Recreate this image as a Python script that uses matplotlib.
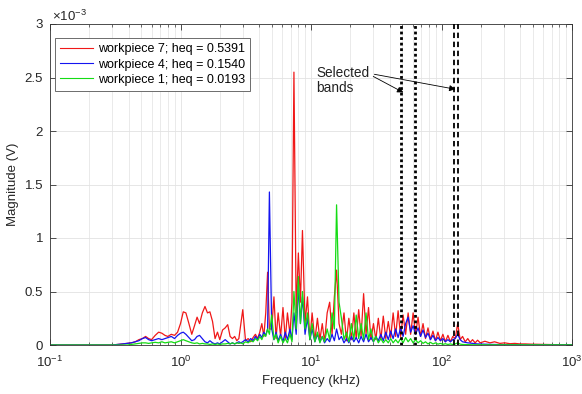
import numpy as np
import matplotlib
matplotlib.use("Agg")
import matplotlib.pyplot as plt
from matplotlib.ticker import LogLocator, NullFormatter, FormatStrFormatter

plt.rcParams['font.family'] = ['Liberation Sans', 'DejaVu Sans']
plt.rcParams['mathtext.fontset'] = 'custom'
plt.rcParams['mathtext.rm'] = 'Liberation Sans'
plt.rcParams['mathtext.it'] = 'Liberation Sans:italic'

# frequency bins (kHz)
freq_low = [0.1, 0.15, 0.2, 0.25, 0.3, 0.33, 0.36, 0.39, 0.42, 0.45,
            0.48, 0.51, 0.54, 0.57, 0.6, 0.64, 0.68, 0.72, 0.76, 0.8,
            0.85, 0.9, 0.95, 1.0, 1.05, 1.1, 1.16, 1.22, 1.28, 1.34,
            1.4, 1.47, 1.54, 1.61, 1.68, 1.76, 1.84, 1.92, 2.0, 2.1,
            2.2, 2.3, 2.4, 2.5, 2.6, 2.7, 2.8, 2.9, 3.0, 3.15,
            3.3, 3.45, 3.6, 3.75, 3.9, 4.05, 4.2, 4.35, 4.5, 4.65, 4.8]
freq_high = [5.0, 5.2, 5.4, 5.6, 5.85, 6.1, 6.35, 6.6, 6.9, 7.15,
             7.4, 7.7, 8.0, 8.3, 8.6, 9.0, 9.4, 9.8, 10.2, 10.7,
             11.2, 11.7, 12.2, 12.7, 13.3, 13.9, 14.5, 15.1, 15.7, 16.4,
             17.1, 17.9, 18.7, 19.5, 20.4, 21.3, 22.2, 23.2, 24.2, 25.3,
             26.4, 27.6, 28.8, 30.1, 31.4, 32.8, 34.3, 35.8, 37.4, 39.1,
             40.8, 42.6, 44.5, 46.5, 48.6, 50.8, 53.1, 55.5, 58, 60.6,
             63.3, 66.1, 69.1, 72.2, 75.4, 78.8, 82.3, 86, 89.9, 93.9,
             98.1, 102.5, 107, 112, 117, 122, 127.5, 133, 139, 145,
             152, 159, 166, 173, 181, 189, 198, 215, 235, 255,
             280, 305, 335, 365, 400, 440, 480, 525, 575, 630,
             690, 760, 830, 910, 1000]

# magnitudes in units of 1e-3 V
wp7_low = [0, 0, 0, 0, 0, 0.005, 0.01, 0.015, 0.02, 0.03,
           0.05, 0.06, 0.08, 0.06, 0.05, 0.09, 0.12, 0.11, 0.09, 0.08,
           0.1, 0.09, 0.12, 0.2, 0.31, 0.3, 0.2, 0.1, 0.18, 0.26,
           0.2, 0.3, 0.36, 0.3, 0.31, 0.22, 0.06, 0.12, 0.05, 0.14,
           0.16, 0.19, 0.08, 0.06, 0.08, 0.04, 0.06, 0.2, 0.33, 0.04,
           0.06, 0.03, 0.07, 0.1, 0.06, 0.12, 0.2, 0.08, 0.3, 0.68, 0.15]
wp7_high = [0.15, 0.45, 0.06, 0.3, 0.08, 0.35, 0.05, 0.3, 0.1, 0.4,
            2.55, 0.3, 0.86, 0.4, 1.07, 0.2, 0.45, 0.05, 0.3, 0.04,
            0.25, 0.05, 0.2, 0.03, 0.3, 0.4, 0.1, 0.45, 0.7, 0.2,
            0.1, 0.3, 0.04, 0.25, 0.05, 0.3, 0.06, 0.33, 0.08, 0.48,
            0.1, 0.35, 0.05, 0.2, 0.05, 0.25, 0.05, 0.27, 0.06, 0.22,
            0.07, 0.3, 0.08, 0.32, 0.08, 0.28, 0.1, 0.3, 0.1, 0.3,
            0.1, 0.26, 0.08, 0.2, 0.06, 0.16, 0.05, 0.13, 0.04, 0.12,
            0.04, 0.1, 0.03, 0.09, 0.03, 0.08, 0.06, 0.2, 0.05, 0.08,
            0.03, 0.06, 0.025, 0.05, 0.02, 0.045, 0.02, 0.035, 0.02, 0.03,
            0.015, 0.02, 0.012, 0.015, 0.01, 0.01, 0.008, 0.007, 0.006, 0.005,
            0.004, 0.003, 0.003, 0.002, 0.002]

wp4_low = [0, 0, 0, 0, 0, 0.005, 0.01, 0.015, 0.02, 0.03,
           0.04, 0.06, 0.07, 0.05, 0.04, 0.05, 0.06, 0.05, 0.06, 0.07,
           0.08, 0.06, 0.09, 0.11, 0.12, 0.1, 0.07, 0.04, 0.05, 0.08,
           0.09, 0.06, 0.03, 0.02, 0.04, 0.02, 0.01, 0.02, 0.01, 0.03,
           0.05, 0.03, 0.01, 0.02, 0.01, 0.02, 0.03, 0.02, 0.03, 0.05,
           0.03, 0.06, 0.04, 0.08, 0.05, 0.1, 0.07, 0.12, 0.09, 0.15, 1.43]
wp4_high = [0.15, 0.05, 0.12, 0.04, 0.1, 0.03, 0.12, 0.05, 0.15, 0.05,
            0.3, 0.1, 0.55, 0.2, 0.45, 0.1, 0.25, 0.05, 0.15, 0.03,
            0.1, 0.03, 0.08, 0.02, 0.06, 0.03, 0.1, 0.04, 0.15, 0.05,
            0.08, 0.02, 0.06, 0.02, 0.08, 0.03, 0.07, 0.02, 0.08, 0.03,
            0.1, 0.03, 0.07, 0.03, 0.08, 0.04, 0.1, 0.04, 0.12, 0.05,
            0.13, 0.06, 0.15, 0.07, 0.16, 0.08, 0.2, 0.26, 0.12, 0.18,
            0.1, 0.16, 0.08, 0.14, 0.07, 0.11, 0.05, 0.09, 0.04, 0.07,
            0.04, 0.06, 0.03, 0.05, 0.03, 0.05, 0.06, 0.1, 0.05, 0.03,
            0.025, 0.02, 0.018, 0.015, 0.012, 0.01, 0.009, 0.008, 0.006, 0.005,
            0.004, 0.003, 0.003, 0.002, 0.002, 0.001, 0.001, 0.001, 0.001, 0.001,
            0.001, 0.001, 0.001, 0.001, 0.001]

wp1_low = [0, 0, 0, 0, 0, 0, 0, 0, 0.005, 0.01,
           0.015, 0.02, 0.02, 0.015, 0.02, 0.025, 0.02, 0.03, 0.02, 0.025,
           0.03, 0.02, 0.03, 0.04, 0.05, 0.04, 0.03, 0.02, 0.015, 0.02,
           0.01, 0.015, 0.01, 0.01, 0.005, 0.01, 0.005, 0.01, 0.005, 0.01,
           0.01, 0.015, 0.01, 0.02, 0.01, 0.02, 0.015, 0.02, 0.01, 0.03,
           0.02, 0.04, 0.03, 0.06, 0.04, 0.08, 0.05, 0.1, 0.08, 0.15, 0.1]
wp1_high = [0.28, 0.05, 0.1, 0.02, 0.08, 0.02, 0.06, 0.02, 0.1, 0.03,
            0.5, 0.15, 0.64, 0.2, 0.5, 0.15, 0.3, 0.05, 0.2, 0.03,
            0.12, 0.02, 0.08, 0.03, 0.15, 0.05, 0.3, 0.15, 1.31, 0.4,
            0.25, 0.05, 0.12, 0.03, 0.2, 0.05, 0.28, 0.06, 0.2, 0.05,
            0.3, 0.05, 0.15, 0.03, 0.08, 0.02, 0.06, 0.02, 0.05, 0.02,
            0.06, 0.02, 0.05, 0.02, 0.06, 0.02, 0.07, 0.03, 0.06, 0.02,
            0.05, 0.02, 0.04, 0.015, 0.03, 0.01, 0.025, 0.01, 0.02, 0.008,
            0.015, 0.006, 0.012, 0.005, 0.01, 0.005, 0.01, 0.02, 0.008, 0.005,
            0.004, 0.003, 0.003, 0.002, 0.002, 0.002, 0.001, 0.001, 0.001, 0.001,
            0.001, 0.001, 0.001, 0.001, 0.001, 0.001, 0.001, 0.001, 0.001, 0.001,
            0.001, 0.001, 0.001, 0.001, 0.001]

labels = ['workpiece 7; heq = 0.5391', 'workpiece 4; heq = 0.1540', 'workpiece 1; heq = 0.0193']
colors = ['#f01818', '#1414f0', '#14dc14']

# selected bands (kHz)
band_dotted = [49, 63]
band_dashed = [125, 133]

freq = freq_low + freq_high
series = [wp7_low + wp7_high, wp4_low + wp4_high, wp1_low + wp1_high]

fig = plt.figure(figsize=(5.82, 3.94), dpi=100)
ax = fig.add_axes([50 / 582, 49 / 394, 522 / 582, 321 / 394])

for mag, lab, c in zip(series, labels, colors):
    ax.plot(freq, mag, color=c, lw=0.9, label=lab)

for f in band_dotted:
    ax.axvline(f, color='black', lw=2.0, linestyle=(0, (1, 1)), zorder=5)
for f in band_dashed:
    ax.axvline(f, color='black', lw=1.3, linestyle=(0, (3, 2)), zorder=5)

ax.set_xscale('log')
ax.set_xlim(0.1, 1000)
ax.set_ylim(0, 3)
ax.set_yticks([0, 0.5, 1, 1.5, 2, 2.5, 3])
ax.yaxis.set_major_formatter(FormatStrFormatter('%g'))
ax.xaxis.set_minor_locator(LogLocator(base=10, subs=np.arange(2, 10)))
ax.xaxis.set_minor_formatter(NullFormatter())

ax.grid(True, which='major', color='#e2e2e2', lw=0.6)
ax.grid(True, which='minor', axis='x', color='#e6e6e6', lw=0.6)
ax.set_axisbelow(True)

ax.tick_params(which='both', direction='in', top=True, right=True, labelsize=9.5,
               color='#333333', labelcolor='#262626')
ax.tick_params(which='major', length=4, width=0.6)
ax.tick_params(axis='x', which='major', pad=7)
ax.tick_params(axis='y', which='major', pad=5)
ax.tick_params(which='minor', length=2.5, width=0.5)
for s in ax.spines.values():
    s.set_color('#333333')
    s.set_linewidth(0.6)

ax.set_xlabel('Frequency (kHz)', fontsize=9.5, color='#262626', labelpad=4)
ax.set_ylabel('Magnitude (V)', fontsize=9.5, color='#262626', labelpad=4)
fig.text(52 / 582, 1 - 24 / 394, r'$\times 10^{-3}$', fontsize=9.5, color='#262626',
         ha='left', va='bottom')

leg = ax.legend(loc='upper left', bbox_to_anchor=(0.01, 0.955), borderaxespad=0,
                fontsize=9, handlelength=2.6, labelspacing=0.25, handletextpad=0.4,
                fancybox=False, framealpha=1, edgecolor='#555555')
leg.get_frame().set_linewidth(0.6)
for line in leg.get_lines():
    line.set_linewidth(0.8)

ax.text(11.0, 2.61, 'Selected\nbands', fontsize=9.8, ha='left', va='top',
        linespacing=1.1, color='#222222')
arrow = dict(arrowstyle='-|>', color='black', lw=0.6, mutation_scale=9, shrinkA=0, shrinkB=0)
ax.annotate('', xy=(51, 2.36), xytext=(30, 2.51), arrowprops=arrow)
ax.annotate('', xy=(128, 2.39), xytext=(30.6, 2.53), arrowprops=arrow)

fig.savefig('out.png', dpi=100)
